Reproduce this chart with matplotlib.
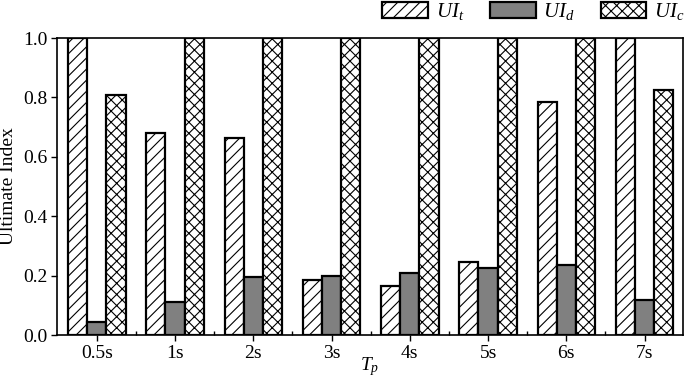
import numpy as np
import matplotlib
matplotlib.use('Agg')
from matplotlib import pyplot as plt

plt.rcParams['font.family'] = 'serif'
plt.rcParams['font.serif'] = ['Liberation Serif', 'DejaVu Serif']
plt.rcParams['mathtext.fontset'] = 'custom'
plt.rcParams['mathtext.rm'] = 'Liberation Serif'
plt.rcParams['mathtext.it'] = 'Liberation Serif:italic'
plt.rcParams['hatch.linewidth'] = 0.8

categories = ['0.5s', '1s', '2s', '3s', '4s', '5s', '6s', '7s']
ui_t = [1.0, 0.68, 0.665, 0.185, 0.165, 0.245, 0.785, 1.0]
ui_d = [0.045, 0.11, 0.195, 0.2, 0.21, 0.225, 0.235, 0.12]
ui_c = [0.81, 1.0, 1.0, 1.0, 1.0, 1.0, 1.0, 0.825]

fig = plt.figure(figsize=(6.85, 3.77), dpi=100)
ax = fig.add_axes([0.083, 0.111, 0.914, 0.788])

x = np.arange(len(categories))
w = 0.245
kw = dict(edgecolor='black', linewidth=1.6)
ax.bar(x - w, ui_t, w, color='white', hatch='///', label='$UI_t$', **kw)
ax.bar(x, ui_d, w, color='#808080', label='$UI_d$', **kw)
ax.bar(x + w, ui_c, w, color='white', hatch='xxx', label='$UI_c$', **kw)

ax.set_xlim(-0.51, 7.49)
ax.set_ylim(0, 1.0)
ax.set_xticks(x)
ax.set_xticklabels(categories, fontsize=14)
ax.set_xticks(x[:-1] + 0.5, minor=True)
ax.tick_params(axis='x', which='major', direction='out', length=4, width=1, pad=3)
ax.tick_params(axis='x', which='minor', direction='in', length=3, width=1)
ax.set_yticks(np.arange(0, 1.01, 0.2))
ax.set_yticklabels(['0.0', '0.2', '0.4', '0.6', '0.8', '1.0'], fontsize=14)
ax.tick_params(axis='y', direction='out', length=4, width=1, pad=3)
for s in ax.spines.values():
    s.set_linewidth(1.2)

ax.set_ylabel('Ultimate Index', fontsize=14, labelpad=4)
ax.set_xlabel('$T_p$', fontsize=14, labelpad=-5)

ax.legend(loc='center left', bbox_to_anchor=(0.52, 1.088), ncol=3, frameon=False,
          fontsize=15, handlelength=2.2, handleheight=0.8, columnspacing=1.25,
          handletextpad=0.35, borderpad=0, borderaxespad=0)

fig.savefig('out.png', dpi=100)
